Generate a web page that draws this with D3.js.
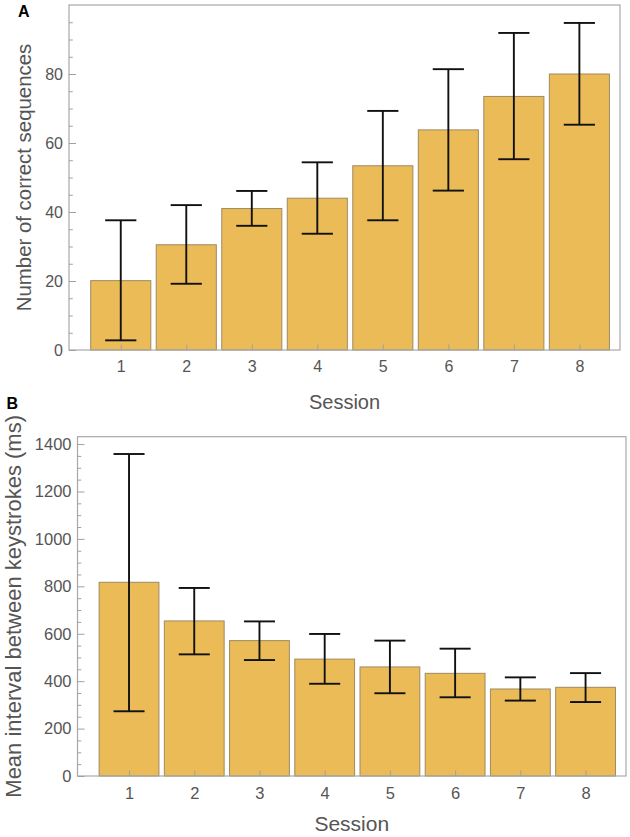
<!DOCTYPE html>
<html>
<head>
<meta charset="utf-8">
<script src="https://cdn.jsdelivr.net/npm/d3@7"></script>
<style>
  html, body { margin: 0; padding: 0; background: #fff; }
  svg { display: block; font-family: "Liberation Sans", Arial, Helvetica, sans-serif; }
</style>
</head>
<body>
<svg id="chart" width="630" height="837"></svg>
<script>
// ---- Data ----
const sessions = [1, 2, 3, 4, 5, 6, 7, 8];

const correctMean  = [20.1, 30.5, 41.0, 44.0, 53.4, 63.8, 73.5, 80.0];
const correctUpper = [37.6, 42.0, 46.1, 54.4, 69.3, 81.4, 91.9, 94.8];
const correctLower = [2.8, 19.2, 36.0, 33.7, 37.6, 46.2, 55.3, 65.3];

const intervalMean  = [817, 654, 571, 493, 460, 433, 367, 374];
const intervalUpper = [1358, 793, 652, 599, 571, 537, 416, 434];
const intervalLower = [273, 513, 489, 389, 349, 332, 318, 312];

const correctTicks  = [0, 20, 40, 60, 80];
const intervalTicks = [0, 200, 400, 600, 800, 1000, 1200, 1400];

const svg = d3.select("#chart");

function drawPanel(opt) {
  const g = svg.append("g");
  const x = d3.scaleLinear().domain([0.21, 8.62]).range([opt.left, opt.right]);
  const y = d3.scaleLinear().domain([0, opt.yMax]).range([opt.bottom, opt.top]);
  const pitch = x(2) - x(1);
  const bw = pitch * 0.917;
  const capHalf = pitch * 0.238;

  // bars
  g.selectAll("rect.bar").data(sessions).join("rect")
    .attr("class", "bar")
    .attr("x", (d) => x(d) - bw / 2)
    .attr("width", bw)
    .attr("y", (d, i) => y(opt.mean[i]))
    .attr("height", (d, i) => y(0) - y(opt.mean[i]))
    .attr("fill", "#ebbb58")
    .attr("stroke", "#9e8a62")
    .attr("stroke-width", 1);

  // frame
  g.append("rect")
    .attr("x", opt.left).attr("y", opt.top)
    .attr("width", opt.right - opt.left).attr("height", opt.bottom - opt.top)
    .attr("fill", "none").attr("stroke", "#a8a8a8").attr("stroke-width", 1.2);

  // y axis major
  const yAxis = g.append("g").attr("transform", `translate(${opt.left},0)`)
    .call(d3.axisLeft(y).tickValues(opt.ticks).tickFormat(d3.format("d"))
      .tickSizeInner(-7).tickSizeOuter(0).tickPadding(6));
  // y axis minor
  const minor = d3.range(0, opt.yMax, opt.minorStep).filter(v => !opt.ticks.includes(v));
  const yMinor = g.append("g").attr("transform", `translate(${opt.left},0)`)
    .call(d3.axisLeft(y).tickValues(minor).tickSizeInner(-3.8).tickSizeOuter(0).tickFormat(""));
  // x axis
  const xAxis = g.append("g").attr("transform", `translate(0,${opt.bottom})`)
    .call(d3.axisBottom(x).tickValues(sessions).tickFormat(d3.format("d"))
      .tickSizeInner(-5.5).tickSizeOuter(0).tickPadding(11));

  [yAxis, yMinor, xAxis].forEach(a => {
    a.select(".domain").remove();
    a.selectAll("line").attr("stroke", "#a0a0a0").attr("stroke-width", 1);
    a.selectAll("text").attr("fill", "#555").style("font-size", opt.tickFont + "px")
      .style("font-family", '"Liberation Sans", Arial, sans-serif');
  });

  // error bars
  const eb = g.append("g").attr("stroke", "#111").attr("stroke-width", 1.9).attr("fill", "none");
  eb.selectAll("line.v").data(sessions).join("line").attr("class", "v")
    .attr("x1", d => x(d)).attr("x2", d => x(d))
    .attr("y1", (d, i) => y(opt.upper[i])).attr("y2", (d, i) => y(opt.lower[i]));
  eb.selectAll("line.t").data(sessions).join("line").attr("class", "t")
    .attr("x1", d => x(d) - capHalf).attr("x2", d => x(d) + capHalf)
    .attr("y1", (d, i) => y(opt.upper[i])).attr("y2", (d, i) => y(opt.upper[i]));
  eb.selectAll("line.b").data(sessions).join("line").attr("class", "b")
    .attr("x1", d => x(d) - capHalf).attr("x2", d => x(d) + capHalf)
    .attr("y1", (d, i) => y(opt.lower[i])).attr("y2", (d, i) => y(opt.lower[i]));

  // x title
  g.append("text")
    .attr("x", (opt.left + opt.right) / 2).attr("y", opt.xTitleY)
    .attr("text-anchor", "middle").attr("fill", "#555")
    .style("font-size", opt.titleFont + "px")
    .text("Session");

  // y title
  g.append("text")
    .attr("transform", `translate(${opt.yTitleX},${(opt.top + opt.bottom) / 2}) rotate(-90)`)
    .attr("text-anchor", "middle").attr("fill", "#555")
    .style("font-size", opt.yTitleFont + "px")
    .text(opt.yTitle);

  // panel letter
  g.append("text")
    .attr("x", opt.letterX).attr("y", opt.letterY)
    .attr("fill", "#000").style("font-size", "16px").style("font-weight", "bold")
    .text(opt.letter);
}

drawPanel({
  left: 69, right: 620, top: 5, bottom: 350, yMax: 100,
  mean: correctMean, upper: correctUpper, lower: correctLower,
  ticks: correctTicks, minorStep: 5,
  tickFont: 16, titleFont: 20, yTitleFont: 20.4,
  xTitleY: 409, yTitleX: 31, yTitle: "Number of correct sequences",
  letter: "A", letterX: 18, letterY: 17
});

drawPanel({
  left: 77.5, right: 626, top: 436.7, bottom: 776, yMax: 1431,
  mean: intervalMean, upper: intervalUpper, lower: intervalLower,
  ticks: intervalTicks, minorStep: 50,
  tickFont: 16.5, titleFont: 21, yTitleFont: 22,
  xTitleY: 831, yTitleX: 21, yTitle: "Mean interval between keystrokes (ms)",
  letter: "B", letterX: 6.5, letterY: 408.5
});
</script>
</body>
</html>
